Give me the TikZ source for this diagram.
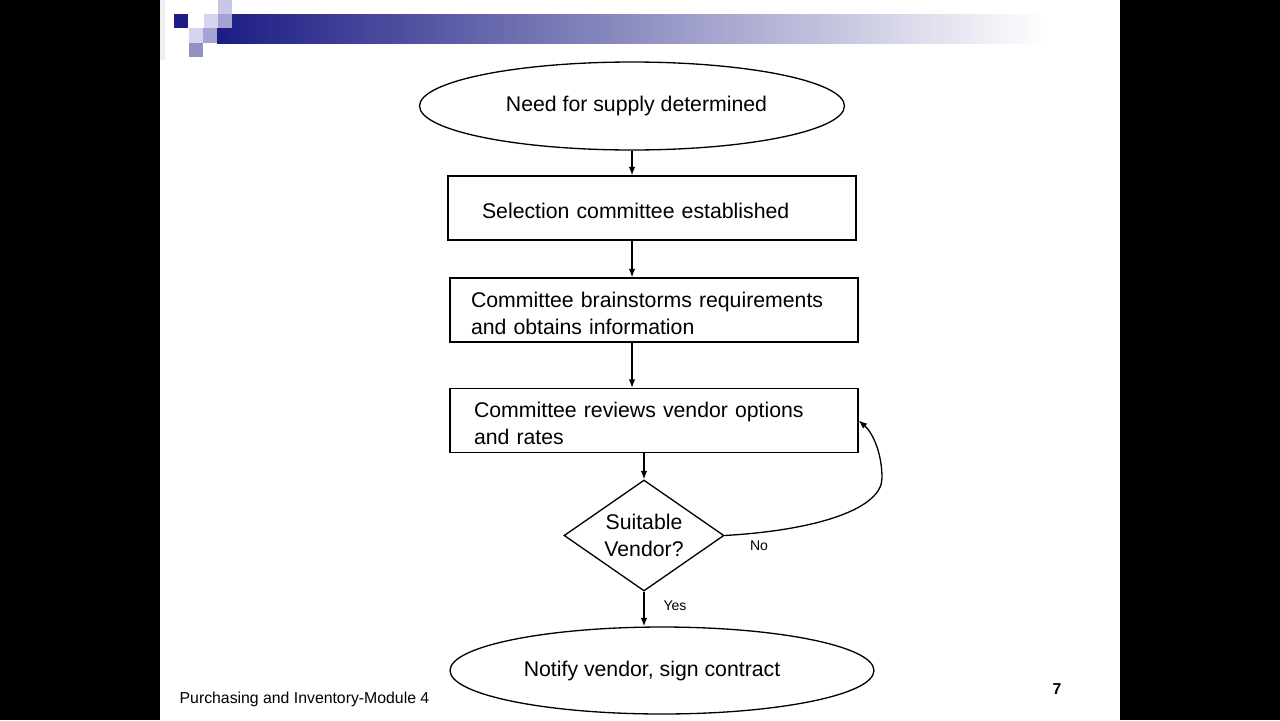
\documentclass[tikz,border=0pt]{standalone}
\usepackage{fontspec}
\setmainfont{Liberation Sans}
\usetikzlibrary{arrows.meta,shapes.geometric}
\definecolor{navy}{HTML}{1C1C84}
\definecolor{lav1}{HTML}{C8C8E4}
\definecolor{lav2}{HTML}{D4D4EC}
\definecolor{lav3}{HTML}{A4A4D0}
\definecolor{lav4}{HTML}{9090C4}

\begin{document}
\begin{tikzpicture}[
  x=0.02cm, y=-0.02cm,
  line width=0.75pt,
  every node/.style={font=\fontsize{12.1}{15.3}\selectfont},
  enode/.style={draw,ellipse,inner sep=0pt},
  bnode/.style={draw,rectangle,minimum height=1.28cm,inner ysep=0pt,align=left},
  dnode/.style={draw,diamond,aspect=1.44,minimum width=3.2cm,minimum height=2.22cm,inner sep=0pt,align=center},
  lbl/.style={font=\fontsize{8}{10}\selectfont},
  arr/.style={-{Latex[length=1.7mm,width=1.3mm]}}
]
  \useasboundingbox (0,0) rectangle (1280,720);

  % slide
  \fill[black] (0,0) rectangle (1280,720);
  \fill[white] (160,0) rectangle (1120,720);
  \fill[black!6] (160,0) rectangle (165,60);

  % title decoration
  \shade[left color=navy,right color=white] (217,14) rectangle (1045,43);
  \fill[navy] (174,14) rectangle (188,28);
  \fill[lav1] (218,0) rectangle (232,14);
  \fill[lav2] (204,14) rectangle (218,28);
  \fill[lav3] (218,14) rectangle (232,28);
  \fill[lav2] (189,28) rectangle (204,43);
  \fill[lav3] (203,28) rectangle (217,43);
  \fill[lav4] (189,43) rectangle (203,57);

  % start and end states
  \node[enode,minimum width=8.5cm,minimum height=1.76cm] (e1) at (632,106) {\kern0.18cm Need for supply determined};
  \node[enode,minimum width=8.48cm,minimum height=1.74cm] (e2) at (662,670.5) {Notify vendor, sign contract\kern0.4cm};

  % steps
  \node[bnode,text width=6.8cm,inner xsep=0.68cm] (b1) at (652,208) {\rule{0pt}{4.2mm}Selection committee established};
  \node[bnode,text width=7.32cm,inner xsep=0.42cm] (b2) at (654,310) {\rule{0pt}{4.4mm}Committee brainstorms requirements\\and obtains information};
  \node[bnode,text width=7.2cm,inner xsep=0.48cm] (b3) at (654,420.5) {\rule{0pt}{4.4mm}Committee reviews vendor options\\and rates};

  % decision
  \node[dnode] (d1) at (644,535.5) {Suitable\\Vendor?};

  % edge labels
  \node[lbl] (no) at (759,546) {No};
  \node[lbl] (yes) at (675,606) {Yes};

  % edges
  \draw[arr] (e1.south) -- (e1.south |- b1.north);
  \draw[arr] (e1.south |- b1.south) -- (e1.south |- b2.north);
  \draw[arr] (e1.south |- b2.south) -- (e1.south |- b3.north);
  \draw[arr] (d1.north |- b3.south) -- (d1.north);
  \draw[arr] (d1.south) -- (d1.south |- e2.north);
  \draw[arr] (d1.east) .. controls (820,530) and (882,508) .. (882,478)
    .. controls (882,452) and (872,432) .. (b3.east);

  % footer
  \node[font=\fontsize{9}{11}\selectfont,anchor=west,inner sep=0pt] (foot) at (179,699) {Purchasing and Inventory-Module 4};
  \node[font=\fontsize{9}{11}\selectfont\bfseries] (pg) at (1057,689) {7};
\end{tikzpicture}
\end{document}
